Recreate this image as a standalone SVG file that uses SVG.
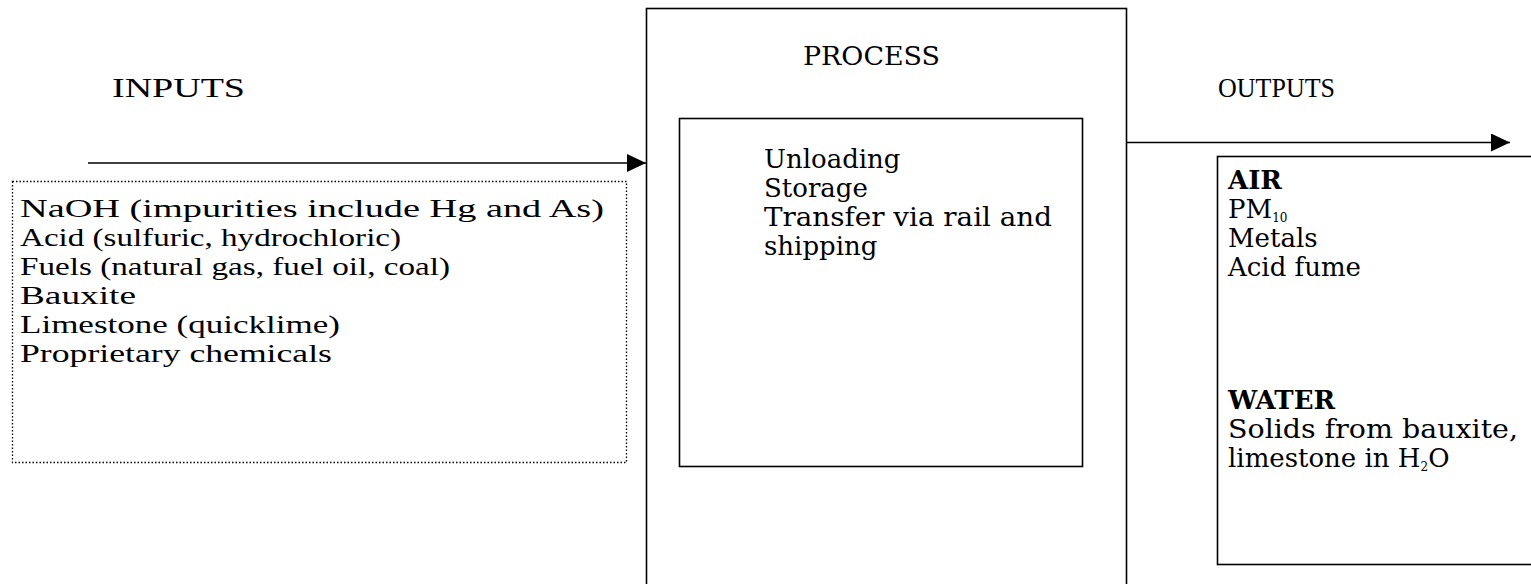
<svg xmlns="http://www.w3.org/2000/svg" width="1531" height="584" viewBox="0 0 1531 584">
  <style>
    .box { fill: none; stroke: #000; stroke-width: 1.6; }
    .dotted { fill: none; stroke: #000; stroke-width: 1.3; stroke-dasharray: 1.5 2; }
    .flow { stroke: #000; stroke-width: 1.6; fill: none; }
    .head { font-family: "Liberation Serif", serif; font-size: 27px; fill: #000; }
    .list { font-family: "Liberation Serif", serif; font-size: 26px; fill: #000; }
    .body { font-family: "DejaVu Serif", "Liberation Serif", serif; font-size: 26px; fill: #000; }
    .bold { font-weight: bold; }
    .sub { font-size: 12px; }
  </style>
  <defs>
    <marker id="arrow" markerUnits="userSpaceOnUse" markerWidth="20" markerHeight="20" refX="19" refY="9" orient="auto">
      <path d="M0,0 L19,9 L0,18 Z" fill="#000"/>
    </marker>
  </defs>

  <rect width="1531" height="584" fill="#fff"/>

  <!-- inputs -->
  <g id="inputs">
    <text class="head" x="112" y="97" textLength="133" lengthAdjust="spacingAndGlyphs">INPUTS</text>
    <rect class="dotted" x="12.5" y="181.5" width="614" height="281"/>
    <text class="list" x="20" y="217" textLength="584" lengthAdjust="spacingAndGlyphs">NaOH (impurities include Hg and As)</text>
    <text class="list" x="20" y="246" textLength="381" lengthAdjust="spacingAndGlyphs">Acid (sulfuric, hydrochloric)</text>
    <text class="list" x="20" y="275" textLength="430" lengthAdjust="spacingAndGlyphs">Fuels (natural gas, fuel oil, coal)</text>
    <text class="list" x="20" y="304" textLength="116" lengthAdjust="spacingAndGlyphs">Bauxite</text>
    <text class="list" x="20" y="333" textLength="320" lengthAdjust="spacingAndGlyphs">Limestone (quicklime)</text>
    <text class="list" x="20" y="362" textLength="312" lengthAdjust="spacingAndGlyphs">Proprietary chemicals</text>
  </g>

  <!-- process -->
  <g id="process">
    <rect class="box" x="646.5" y="8.5" width="480" height="600"/>
    <text class="body" x="803" y="65" textLength="137" lengthAdjust="spacingAndGlyphs">PROCESS</text>
    <rect class="box" x="679.5" y="118.5" width="403" height="348"/>
    <text class="body" x="764" y="168">Unloading</text>
    <text class="body" x="764" y="197">Storage</text>
    <text class="body" x="764" y="226" textLength="288" lengthAdjust="spacingAndGlyphs">Transfer via rail and</text>
    <text class="body" x="764" y="255">shipping</text>
  </g>

  <!-- outputs -->
  <g id="outputs">
    <text class="head" x="1218" y="97" textLength="117" lengthAdjust="spacingAndGlyphs">OUTPUTS</text>
    <rect class="box" x="1217.5" y="156.5" width="340" height="408"/>
    <text class="body bold" x="1228" y="189">AIR</text>
    <text class="body" x="1228" y="218">PM<tspan class="sub" dy="4">10</tspan></text>
    <text class="body" x="1228" y="247">Metals</text>
    <text class="body" x="1228" y="276">Acid fume</text>
    <text class="body bold" x="1228" y="409">WATER</text>
    <text class="body" x="1228" y="438" textLength="290" lengthAdjust="spacingAndGlyphs">Solids from bauxite,</text>
    <text class="body" x="1228" y="467">limestone in H<tspan class="sub" dy="4">2</tspan><tspan dy="-4">O</tspan></text>
  </g>

  <!-- connectors -->
  <g id="connectors">
    <line class="flow" x1="88" y1="163" x2="646" y2="163" marker-end="url(#arrow)"/>
    <line class="flow" x1="1127" y1="142.5" x2="1510" y2="142.5" marker-end="url(#arrow)"/>
  </g>
</svg>
